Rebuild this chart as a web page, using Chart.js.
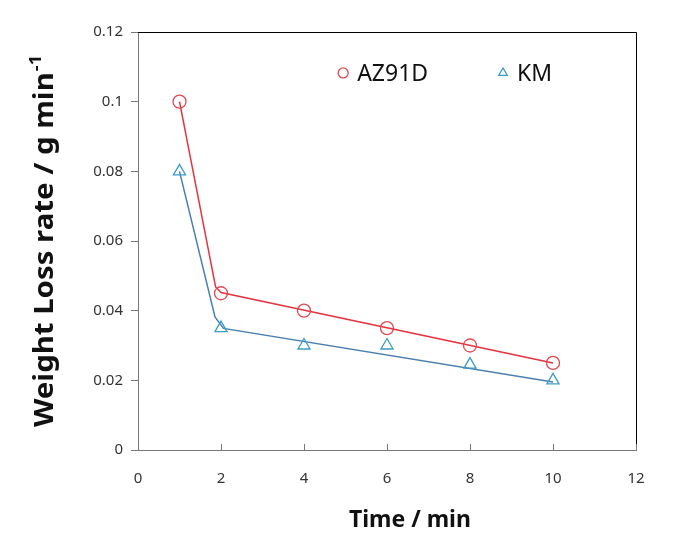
<!DOCTYPE html>
<html><head><meta charset="utf-8">
<script src="https://cdn.jsdelivr.net/npm/chart.js@4"></script>
<style>html,body{margin:0;padding:0;background:#fff}</style>
</head><body>
<canvas id="c" width="683" height="546"></canvas>
<script>
// ---- data ----
const timeMin = [1, 2, 4, 6, 8, 10];
const az91d = [0.1, 0.045, 0.04, 0.035, 0.03, 0.025];
const km = [0.08, 0.035, 0.03, 0.03, 0.0245, 0.02];
const fitAzX = [1, 1.87, 2, 10];
const fitAzY = [0.1, 0.0468, 0.0452, 0.025];
const fitKmX = [1, 1.855, 2.06, 10];
const fitKmY = [0.08, 0.0382, 0.0349, 0.0195];
const xTicks = [0, 2, 4, 6, 8, 10, 12];
const yTicks = [0, 0.02, 0.04, 0.06, 0.08, 0.1, 0.12];
const seriesNames = ['AZ91D', 'KM'];

const RED = '#e3343f', RED_M = '#de4a52';
const BLUE = '#4a7fb0', BLUE_M = '#3b9cc6';
const pts = (xs, ys) => xs.map((x, i) => ({x, y: ys[i]}));

const extras = {
  id: 'extras',
  afterDraw(chart) {
    const {ctx, chartArea: a, scales} = chart;
    ctx.save();
    // top & right frame
    ctx.strokeStyle = '#000'; ctx.lineWidth = 1;
    ctx.beginPath();
    ctx.moveTo(a.left, a.top + 0.5); ctx.lineTo(a.right + 0.5, a.top + 0.5);
    ctx.lineTo(a.right + 0.5, a.bottom);
    ctx.stroke();
    // inside x ticks
    ctx.strokeStyle = '#777';
    ctx.beginPath();
    scales.x.ticks.forEach(t => {
      const px = Math.round(scales.x.getPixelForValue(t.value)) + 0.5;
      ctx.moveTo(px, a.bottom); ctx.lineTo(px, a.bottom - 6);
    });
    ctx.stroke();
    // legend
    const W = a.right - a.left, H = a.bottom - a.top;
    const items = [
      {name: seriesNames[0], style: 'circle', color: RED_M, fx: 0.412},
      {name: seriesNames[1], style: 'triangle', color: BLUE_M, fx: 0.733}
    ];
    const ly = a.top + 0.098 * H;
    ctx.font = '23px "Noto Sans"';
    ctx.textBaseline = 'middle';
    ctx.textAlign = 'left';
    items.forEach(it => {
      const lx = a.left + it.fx * W;
      ctx.strokeStyle = it.color; ctx.lineWidth = 1.3;
      ctx.fillStyle = 'rgba(0,0,0,0)';
      Chart.helpers.drawPoint(ctx, {pointStyle: it.style, radius: 5, borderWidth: 1.3}, lx, ly);
      ctx.fillStyle = '#111';
      ctx.fillText(it.name, lx + 14, ly + 1);
    });
    // x title
    ctx.fillStyle = '#111';
    ctx.font = 'bold 23px "Noto Sans"';
    ctx.textAlign = 'center';
    ctx.fillText('Time / min', a.left + 0.546 * W, 520);
    // y title with superscript
    ctx.translate(46, a.top + 0.5 * H);
    ctx.rotate(-Math.PI / 2);
    const main = 'Weight Loss rate / g min';
    ctx.font = 'bold 26px "Noto Sans"';
    const w1 = ctx.measureText(main).width;
    ctx.font = 'bold 16px "Noto Sans"';
    const w2 = ctx.measureText('-1').width;
    const total = w1 + w2 + 1;
    const sx = 372 / total;
    ctx.scale(sx, 1);
    const start = -total / 2;
    ctx.textAlign = 'left';
    ctx.textBaseline = 'middle';
    ctx.font = 'bold 26px "Noto Sans"';
    ctx.fillText(main, start, 0);
    ctx.font = 'bold 16px "Noto Sans"';
    ctx.fillText('-1', start + w1 + 1, -10);
    ctx.restore();
  }
};

new Chart(document.getElementById('c'), {
  type: 'scatter',
  data: {
    datasets: [
      {label: seriesNames[0], data: pts(timeMin, az91d), pointStyle: 'circle', pointRadius: 6.5,
       borderColor: RED_M, backgroundColor: 'rgba(0,0,0,0)', pointBorderWidth: 1.3, showLine: false, order: 0},
      {label: seriesNames[1], data: pts(timeMin, km), pointStyle: 'triangle', pointRadius: 7,
       borderColor: BLUE_M, backgroundColor: 'rgba(0,0,0,0)', pointBorderWidth: 1.3, showLine: false, order: 0},
      {label: 'fitAZ', data: pts(fitAzX, fitAzY), showLine: true, pointRadius: 0, borderColor: RED,
       borderWidth: 1.5, tension: 0, order: 1},
      {label: 'fitKM', data: pts(fitKmX, fitKmY), showLine: true, pointRadius: 0, borderColor: BLUE,
       borderWidth: 1.5, tension: 0, order: 1}
    ]
  },
  options: {
    responsive: false, animation: false,
    layout: {padding: {left: 0, right: 47, top: 32, bottom: 0}},
    plugins: {legend: {display: false}, tooltip: {enabled: false}},
    scales: {
      x: {
        type: 'linear', min: 0, max: 12,
        afterBuildTicks: s => { s.ticks = xTicks.map(v => ({value: v})); },
        ticks: {padding: 20, color: '#333', font: {family: 'Noto Sans', size: 15}, maxRotation: 0},
        grid: {display: true, drawOnChartArea: false, drawTicks: false},
        border: {color: '#777'},
        afterFit: s => { s.height = 96; }
      },
      y: {
        min: 0, max: 0.12,
        afterBuildTicks: s => { s.ticks = yTicks.map(v => ({value: v})); },
        ticks: {padding: 8, color: '#333', font: {family: 'Noto Sans', size: 15},
                callback: v => String(+v.toFixed(2))},
        grid: {drawOnChartArea: false, tickLength: 7, color: '#777'},
        border: {color: '#777'},
        afterFit: s => { s.width = 138; }
      }
    }
  },
  plugins: [extras]
});
</script>
</body></html>
